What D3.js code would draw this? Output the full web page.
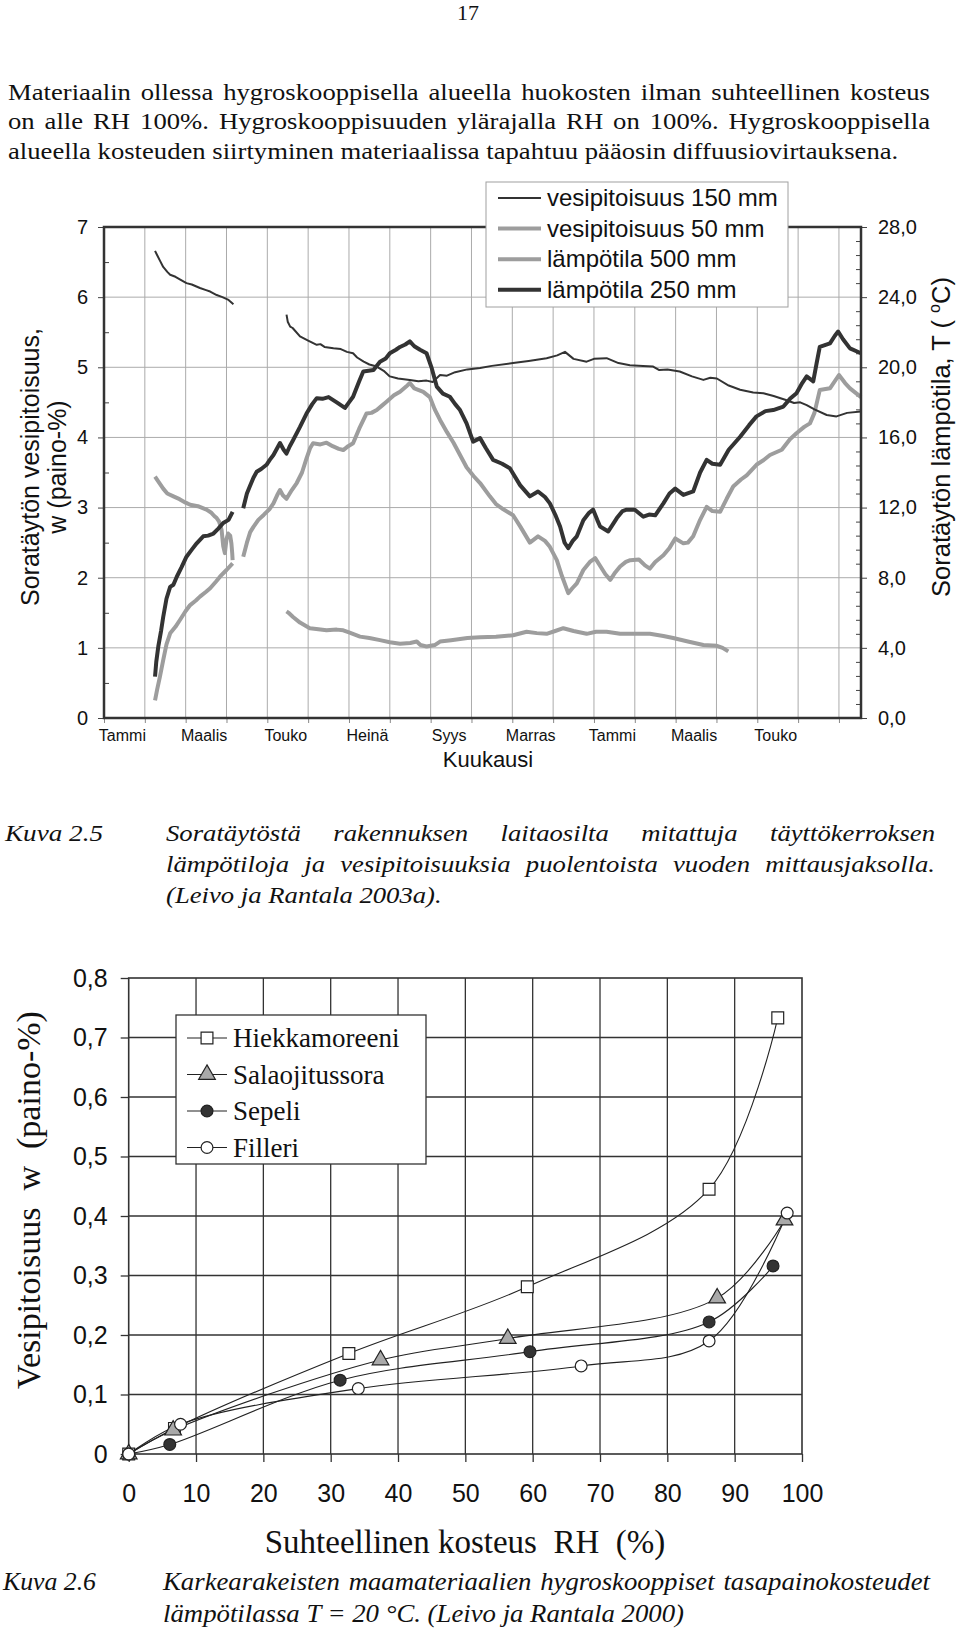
<!DOCTYPE html>
<html>
<head>
<meta charset="utf-8">
<script src="https://cdn.jsdelivr.net/npm/d3@7"></script>
<style>
  body { margin: 0; background: #fff; }
  #page { position: relative; width: 960px; height: 1629px; background: #fff; overflow: hidden; }
  #chart { position: absolute; left: 0; top: 0; }
  .line { position: absolute; white-space: nowrap; color: #111; transform-origin: 0 0; }
  .just { text-align: justify; text-align-last: justify; white-space: normal; }
</style>
</head>
<body>
<div id="page"><svg id="chart" width="960" height="1629"></svg></div>
<script>
// ---- top chart: months from Tammi (0) , w in paino-%, T in degC
const monthTicks = [0, 2, 4, 6, 8, 10, 12, 14, 16];
const monthLabels = ["Tammi", "Maalis", "Touko", "Heinä", "Syys", "Marras", "Tammi", "Maalis", "Touko"];
const wTicks = [0, 1, 2, 3, 4, 5, 6, 7];
const tTicks = [0, 4, 8, 12, 16, 20, 24, 28];
const topLegend = ["vesipitoisuus 150 mm", "vesipitoisuus 50 mm", "lämpötila 500 mm", "lämpötila 250 mm"];

// vesipitoisuus 150 mm (w)
const w150a = [[1.25,6.66],[1.30,6.60],[1.37,6.52],[1.45,6.43],[1.55,6.36],[1.62,6.32],[1.75,6.29],[1.9,6.24],[2.02,6.20],[2.15,6.18],[2.35,6.13],[2.5,6.10],[2.6,6.08],[2.76,6.03],[2.9,6.0],[3.05,5.96],[3.17,5.90]];
const w150b = [[4.47,5.75],[4.50,5.65],[4.56,5.58],[4.62,5.56],[4.8,5.44],[5.0,5.38],[5.21,5.32],[5.3,5.33],[5.4,5.29],[5.62,5.27],[5.8,5.26],[5.95,5.22],[6.1,5.20],[6.2,5.14],[6.36,5.08],[6.5,5.04],[6.68,5.01],[6.85,4.95],[7.0,4.87],[7.2,4.84],[7.49,4.82],[7.7,4.80],[7.9,4.81],[8.05,4.79],[8.23,4.89],[8.4,4.88],[8.6,4.93],[8.9,4.97],[9.21,4.99],[9.5,5.02],[10.02,5.06],[10.4,5.09],[10.84,5.13],[11.1,5.17],[11.29,5.22],[11.5,5.12],[11.82,5.08],[12.0,5.12],[12.31,5.13],[12.6,5.06],[12.88,5.03],[13.2,5.02],[13.45,5.01],[13.6,4.96],[13.8,4.97],[14.1,4.94],[14.4,4.87],[14.68,4.82],[14.85,4.85],[15.01,4.84],[15.3,4.74],[15.58,4.68],[15.9,4.64],[16.15,4.63],[16.4,4.59],[16.72,4.53],[16.9,4.49],[17.05,4.50],[17.21,4.46],[17.4,4.40],[17.7,4.32],[17.94,4.30],[18.2,4.35],[18.54,4.37]];

// vesipitoisuus 50 mm (w)
const w50a = [[1.25,3.44],[1.32,3.38],[1.45,3.27],[1.55,3.20],[1.70,3.16],[1.85,3.12],[2.0,3.07],[2.11,3.04],[2.3,3.02],[2.51,2.97],[2.62,2.93],[2.70,2.88],[2.76,2.85],[2.82,2.80],[2.88,2.68],[2.92,2.45],[2.96,2.35],[3.0,2.55],[3.04,2.63],[3.09,2.60],[3.12,2.49],[3.14,2.35],[3.15,2.25]];
const w50b = [[4.47,1.52],[4.52,1.50],[4.63,1.44],[4.8,1.36],[5.04,1.28],[5.2,1.27],[5.45,1.25],[5.7,1.26],[5.86,1.25],[6.0,1.22],[6.27,1.16],[6.5,1.14],[6.76,1.11],[7.0,1.08],[7.25,1.06],[7.5,1.07],[7.66,1.09],[7.75,1.04],[7.9,1.02],[8.1,1.04],[8.23,1.09],[8.5,1.11],[8.9,1.14],[9.21,1.15],[9.6,1.16],[10.02,1.18],[10.35,1.23],[10.6,1.21],[10.84,1.20],[11.05,1.24],[11.25,1.28],[11.5,1.24],[11.82,1.20],[12.05,1.23],[12.31,1.23],[12.64,1.20],[13.0,1.20],[13.37,1.20],[13.7,1.17],[13.94,1.14],[14.3,1.09],[14.68,1.04],[15.01,1.03],[15.15,1.00],[15.29,0.95]];

// lämpötila 500 mm (T)
const t500a = [[1.25,1.0],[1.30,1.6],[1.37,2.36],[1.45,3.3],[1.53,4.2],[1.62,4.83],[1.75,5.2],[1.86,5.59],[2.0,6.1],[2.11,6.44],[2.25,6.7],[2.35,6.92],[2.5,7.2],[2.60,7.40],[2.75,7.8],[2.84,8.06],[3.0,8.44],[3.15,8.82]];
const t500b = [[3.41,9.2],[3.5,10.0],[3.58,10.6],[3.66,10.9],[3.78,11.3],[3.91,11.58],[4.05,11.9],[4.15,12.24],[4.24,12.7],[4.31,13.0],[4.38,12.7],[4.47,12.5],[4.6,13.0],[4.72,13.4],[4.85,14.0],[4.96,14.8],[5.05,15.4],[5.12,15.67],[5.3,15.6],[5.45,15.7],[5.6,15.5],[5.75,15.35],[5.86,15.28],[5.98,15.5],[6.1,15.67],[6.25,16.5],[6.43,17.37],[6.55,17.4],[6.68,17.56],[6.8,17.8],[6.92,18.04],[7.1,18.4],[7.25,18.6],[7.4,18.9],[7.49,19.1],[7.6,18.8],[7.82,18.6],[7.98,18.3],[8.1,17.6],[8.23,17.0],[8.4,16.3],[8.56,15.7],[8.72,15.0],[8.88,14.3],[9.05,13.8],[9.21,13.4],[9.45,12.64],[9.6,12.2],[9.78,11.9],[10.02,11.56],[10.2,10.9],[10.43,10.0],[10.63,10.36],[10.8,10.1],[10.92,9.76],[11.09,9.0],[11.2,8.2],[11.37,7.12],[11.47,7.4],[11.58,7.68],[11.74,8.44],[11.9,8.9],[12.03,9.12],[12.16,8.64],[12.28,8.2],[12.4,7.88],[12.52,8.3],[12.64,8.64],[12.78,8.9],[12.89,9.0],[13.1,9.04],[13.25,8.7],[13.37,8.52],[13.5,8.9],[13.70,9.28],[13.85,9.7],[13.99,10.24],[14.19,9.96],[14.3,10.0],[14.43,10.36],[14.6,11.3],[14.76,12.04],[14.9,11.8],[15.09,11.76],[15.25,12.5],[15.41,13.2],[15.6,13.6],[15.74,13.84],[15.98,14.44],[16.15,14.7],[16.31,15.0],[16.6,15.3],[16.8,15.9],[16.96,16.24],[17.15,16.6],[17.29,16.8],[17.4,17.4],[17.53,18.7],[17.78,18.8],[18.0,19.56],[18.15,19.1],[18.27,18.8],[18.54,18.3]];

// lämpötila 250 mm (T)
const t250a = [[1.25,2.36],[1.28,3.2],[1.33,4.08],[1.40,5.0],[1.45,5.76],[1.53,6.8],[1.62,7.48],[1.70,7.6],[1.78,8.04],[1.9,8.6],[2.02,9.2],[2.15,9.6],[2.27,9.96],[2.43,10.36],[2.55,10.4],[2.68,10.52],[2.80,10.8],[2.92,11.12],[3.05,11.3],[3.15,11.76]];
const t250b = [[3.41,11.96],[3.5,12.8],[3.57,13.2],[3.66,13.7],[3.74,14.04],[3.85,14.2],[3.98,14.44],[4.06,14.72],[4.15,15.0],[4.31,15.68],[4.40,15.3],[4.47,15.08],[4.55,15.5],[4.63,15.84],[4.8,16.6],[4.96,17.36],[5.1,17.9],[5.21,18.24],[5.35,18.2],[5.5,18.3],[5.7,18.0],[5.90,17.68],[6.0,18.0],[6.1,18.32],[6.25,19.2],[6.35,19.76],[6.6,19.84],[6.76,20.32],[6.9,20.5],[7.0,20.8],[7.15,21.0],[7.25,21.16],[7.38,21.3],[7.49,21.48],[7.6,21.2],[7.74,21.0],[7.9,20.8],[8.02,20.0],[8.15,18.9],[8.3,18.5],[8.47,18.32],[8.6,17.9],[8.72,17.56],[8.88,16.8],[9.04,15.76],[9.21,15.96],[9.35,15.4],[9.53,14.72],[9.75,14.5],[9.94,14.24],[10.19,13.28],[10.43,12.64],[10.63,12.92],[10.8,12.6],[10.92,12.24],[11.05,11.6],[11.17,10.92],[11.28,10.0],[11.37,9.68],[11.48,10.1],[11.58,10.36],[11.74,11.28],[11.88,11.7],[11.98,11.88],[12.08,11.3],[12.15,10.92],[12.35,10.64],[12.45,11.0],[12.56,11.4],[12.7,11.8],[12.8,11.88],[13.0,11.88],[13.21,11.48],[13.35,11.6],[13.5,11.56],[13.70,12.24],[13.85,12.8],[13.99,13.08],[14.19,12.72],[14.43,12.92],[14.6,14.0],[14.76,14.72],[14.9,14.5],[15.09,14.44],[15.3,15.3],[15.58,16.04],[15.8,16.7],[15.98,17.2],[16.2,17.5],[16.39,17.56],[16.64,17.76],[16.8,18.2],[16.96,18.52],[17.1,19.1],[17.21,19.48],[17.37,19.2],[17.45,20.2],[17.53,21.16],[17.78,21.36],[17.9,21.8],[17.98,22.04],[18.1,21.6],[18.27,21.08],[18.54,20.8]];

// ---- bottom chart: RH (%) and w (paino-%)
const rhTicks = [0, 10, 20, 30, 40, 50, 60, 70, 80, 90, 100];
const wbTicks = [0, 0.1, 0.2, 0.3, 0.4, 0.5, 0.6, 0.7, 0.8];
const materials = ["Hiekkamoreeni", "Salaojitussora", "Sepeli", "Filleri"];
const hiekkaRH = [0, 6.8, 32.7, 59.2, 86.2, 96.4];
const hiekkaW = [0, 0.043, 0.169, 0.281, 0.445, 0.733];
const salaRH = [0, 6.6, 37.4, 56.3, 87.4, 97.4];
const salaW = [0, 0.040, 0.158, 0.194, 0.262, 0.393];
const sepeliRH = [0, 6.1, 31.4, 59.6, 86.2, 95.7];
const sepeliW = [0, 0.016, 0.124, 0.172, 0.222, 0.316];
const filleriRH = [0, 7.7, 34.1, 67.2, 86.2, 97.8];
const filleriW = [0, 0.050, 0.110, 0.148, 0.190, 0.405];

// ---- page text
const bodyLines = [
  "Materiaalin ollessa hygroskooppisella alueella huokosten ilman suhteellinen kosteus",
  "on alle RH 100%. Hygroskooppisuuden ylärajalla RH on 100%. Hygroskooppisella",
  "alueella kosteuden siirtyminen materiaalissa tapahtuu pääosin diffuusiovirtauksena."
];
const caption25 = [
  "Soratäytöstä rakennuksen laitaosilta mitattuja täyttökerroksen",
  "lämpötiloja ja vesipitoisuuksia puolentoista vuoden mittausjaksolla.",
  "(Leivo ja Rantala 2003a)."
];
const caption26 = [
  "Karkearakeisten maamateriaalien hygroskooppiset tasapainokosteudet",
  "lämpötilassa T = 20 °C. (Leivo ja Rantala 2000)"
];

const SANS = "'Liberation Sans', Arial, sans-serif";
const SERIF = "'Liberation Serif', 'Times New Roman', serif";
const page = d3.select("#page");
const svg = d3.select("#chart");

// html text line placed by its baseline, sx = horizontal stretch of the glyphs
function textLine(str, left, width, baseline, size, italic, justify, sx) {
  const lh = Math.round(size * 1.3);
  const top = baseline - ((lh - 1.107 * size) / 2 + 0.891 * size);
  page.append("div")
    .attr("class", justify ? "line just" : "line")
    .style("left", left + "px")
    .style("top", top + "px")
    .style("width", width ? (width / sx) + "px" : null)
    .style("transform", `scaleX(${sx})`)
    .style("font-family", SERIF)
    .style("font-size", size + "px")
    .style("line-height", lh + "px")
    .style("font-style", italic ? "italic" : "normal")
    .text(str);
}

textLine("17", 457, null, 20, 22, false, false, 1);
bodyLines.forEach((s, i) => textLine(s, 8, 922, 100 + i * 29.5, 22.5, false, i < 2, 1.185));
textLine("Kuva 2.5", 5, null, 842, 23, true, false, 1.18);
caption25.forEach((s, i) => textLine(s, 166, 769, 842 + i * 31, 23, true, i < 2, 1.16));
textLine("Kuva 2.6", 3, null, 1590, 25, true, false, 1.03);
caption26.forEach((s, i) => textLine(s, 163, 767, 1590 + i * 32, 25, true, i < 1, 1.07));

// ================= top chart =================
const xT = d3.scaleLinear().domain([0, 18.54]).range([104, 861]);
const yL = d3.scaleLinear().domain([0, 7]).range([718, 227]);
const yR = d3.scaleLinear().domain([0, 28]).range([718, 227]);
const gT = svg.append("g");

// grid
gT.selectAll(".vg").data(d3.range(1, 19)).join("line")
  .attr("x1", d => xT(d)).attr("x2", d => xT(d))
  .attr("y1", yL(7)).attr("y2", yL(0))
  .attr("stroke", "#ababab").attr("stroke-width", 1);
gT.selectAll(".hg").data(wTicks.slice(1, -1)).join("line")
  .attr("x1", xT(0)).attr("x2", xT(18.54))
  .attr("y1", d => yL(d)).attr("y2", d => yL(d))
  .attr("stroke", "#ababab").attr("stroke-width", 1);

// axes
function styleAxis(g, size) {
  g.attr("font-family", SANS).attr("font-size", size);
  g.select(".domain").remove();
  g.selectAll("text").attr("fill", "#111");
  g.selectAll("line").attr("stroke", "#444");
}
gT.append("g").attr("transform", `translate(${xT(0)},0)`)
  .call(d3.axisLeft(yL).tickValues(wTicks).tickSize(6).tickPadding(10).tickFormat(d3.format("d")))
  .call(g => styleAxis(g, 20));
gT.append("g").attr("transform", `translate(${xT(0)},0)`)
  .call(d3.axisLeft(yL).tickValues(d3.range(0.5, 7, 1)).tickSize(-5).tickFormat(""))
  .call(g => styleAxis(g, 10));
gT.append("g").attr("transform", `translate(${xT(18.54)},0)`)
  .call(d3.axisRight(yR).tickValues(tTicks).tickSize(6).tickPadding(11)
    .tickFormat(d => d3.format(".1f")(d).replace(".", ",")))
  .call(g => styleAxis(g, 20));
gT.append("g").attr("transform", `translate(${xT(18.54)},0)`)
  .call(d3.axisRight(yR).tickValues(d3.range(1, 35).map(i => i * 0.8).filter(v => v < 28 && Math.abs(v / 4 - Math.round(v / 4)) > 0.01))
    .tickSize(-5).tickFormat(""))
  .call(g => styleAxis(g, 10));
gT.append("g").attr("transform", `translate(0,${yL(0)})`)
  .call(d3.axisBottom(xT).tickValues(d3.range(0, 19)).tickSize(5).tickFormat(""))
  .call(g => styleAxis(g, 10))
  .call(g => g.selectAll("line").attr("stroke", "#888"));

gT.selectAll(".mlab").data(monthLabels).join("text")
  .attr("x", (d, i) => xT(monthTicks[i] + 0.5) - 2)
  .attr("y", 741)
  .attr("text-anchor", "middle")
  .attr("font-family", SANS).attr("font-size", 16).attr("fill", "#111")
  .text(d => d);

// series
const lineL = d3.line().x(d => xT(d[0])).y(d => yL(d[1]));
const lineR = d3.line().x(d => xT(d[0])).y(d => yR(d[1]));
const topSeries = [
  { segs: [w50a, w50b], gen: lineL, color: "#9d9d9d", width: 4 },
  { segs: [t500a, t500b], gen: lineR, color: "#9d9d9d", width: 4 },
  { segs: [t250a, t250b], gen: lineR, color: "#333", width: 4 },
  { segs: [w150a, w150b], gen: lineL, color: "#333", width: 2 }
];
topSeries.forEach(s => {
  gT.selectAll(null).data(s.segs).join("path")
    .attr("d", d => s.gen(d))
    .attr("fill", "none").attr("stroke", s.color)
    .attr("stroke-width", s.width).attr("stroke-linejoin", "round");
});

// frame
gT.append("rect")
  .attr("x", xT(0)).attr("y", yL(7))
  .attr("width", xT(18.54) - xT(0)).attr("height", yL(0) - yL(7))
  .attr("fill", "none").attr("stroke", "#333").attr("stroke-width", 2.5);

// legend
const legT = gT.append("g");
legT.append("rect").attr("x", 486).attr("y", 182).attr("width", 302).attr("height", 125)
  .attr("fill", "#fff").attr("stroke", "#a0a0a0").attr("stroke-width", 1);
const legStyle = [topSeries[3], topSeries[0], topSeries[1], topSeries[2]];
legT.selectAll(".li").data(topLegend).join("line")
  .attr("x1", 498).attr("x2", 541)
  .attr("y1", (d, i) => 198 + i * 30.6).attr("y2", (d, i) => 198 + i * 30.6)
  .attr("stroke", (d, i) => legStyle[i].color)
  .attr("stroke-width", (d, i) => legStyle[i].width);
legT.selectAll(".lt").data(topLegend).join("text")
  .attr("x", 547).attr("y", (d, i) => 198 + i * 30.6 + 8)
  .attr("font-family", SANS).attr("font-size", 24).attr("fill", "#111")
  .text(d => d);

// axis titles
gT.append("text")
  .attr("transform", "translate(39,467) rotate(-90)")
  .attr("text-anchor", "middle").attr("font-family", SANS).attr("font-size", 25).attr("fill", "#111")
  .text("Soratäytön vesipitoisuus,");
gT.append("text")
  .attr("transform", "translate(66,467) rotate(-90)")
  .attr("text-anchor", "middle").attr("font-family", SANS).attr("font-size", 25).attr("fill", "#111")
  .text("w (paino-%)");
const rt = gT.append("text")
  .attr("transform", "translate(950,437) rotate(-90)")
  .attr("text-anchor", "middle").attr("font-family", SANS).attr("font-size", 25.5).attr("fill", "#111")
  .style("white-space", "pre");
rt.append("tspan").text("Soratäytön lämpötila, T ( ");
rt.append("tspan").attr("font-size", 16).attr("dy", -10).text("o");
rt.append("tspan").attr("dy", 10).text("C)");
gT.append("text")
  .attr("x", 488).attr("y", 767).attr("text-anchor", "middle")
  .attr("font-family", SANS).attr("font-size", 22).attr("fill", "#111")
  .text("Kuukausi");

// ================= bottom chart =================
const xB = d3.scaleLinear().domain([0, 100]).range([128.7, 802]);
const yB = d3.scaleLinear().domain([0, 0.8]).range([1454, 978]);
const gB = svg.append("g");

gB.selectAll(".vg").data(rhTicks.slice(1, -1)).join("line")
  .attr("x1", d => xB(d)).attr("x2", d => xB(d))
  .attr("y1", yB(0.8)).attr("y2", yB(0))
  .attr("stroke", "#333").attr("stroke-width", 1.3);
gB.selectAll(".hg").data(wbTicks.slice(1, -1)).join("line")
  .attr("x1", xB(0)).attr("x2", xB(100))
  .attr("y1", d => yB(d)).attr("y2", d => yB(d))
  .attr("stroke", "#333").attr("stroke-width", 1.3);

const fmtW = d => d === 0 ? "0" : d3.format(".1f")(d).replace(".", ",");
gB.append("g").attr("transform", `translate(${xB(0)},0)`)
  .call(d3.axisLeft(yB).tickValues(wbTicks).tickSize(8).tickPadding(13).tickFormat(fmtW))
  .call(g => styleAxis(g, 25))
  .call(g => g.selectAll("line").attr("stroke", "#333").attr("stroke-width", 1.3));
gB.append("g").attr("transform", `translate(0,${yB(0)})`)
  .call(d3.axisBottom(xB).tickValues(rhTicks).tickSize(8).tickPadding(22).tickFormat(d3.format("d")))
  .call(g => styleAxis(g, 25))
  .call(g => g.selectAll("line").attr("stroke", "#333").attr("stroke-width", 1.3));

gB.append("rect")
  .attr("x", xB(0)).attr("y", yB(0.8))
  .attr("width", xB(100) - xB(0)).attr("height", yB(0) - yB(0.8))
  .attr("fill", "none").attr("stroke", "#333").attr("stroke-width", 1.6);

const matData = [
  d3.zip(hiekkaRH, hiekkaW), d3.zip(salaRH, salaW),
  d3.zip(sepeliRH, sepeliW), d3.zip(filleriRH, filleriW)
];
const matStyle = [
  { type: d3.symbolSquare, size: 140, fill: "#fff" },
  { type: d3.symbolTriangle, size: 120, fill: "#a9a9a9" },
  { type: d3.symbolCircle, size: 110, fill: "#333" },
  { type: d3.symbolCircle, size: 110, fill: "#fff" }
];
const lineB = d3.line().x(d => xB(d[0])).y(d => yB(d[1])).curve(d3.curveCatmullRom.alpha(0.5));
gB.selectAll(".ml").data(matData).join("path")
  .attr("d", d => lineB(d))
  .attr("fill", "none").attr("stroke", "#222").attr("stroke-width", 1.1);
matData.forEach((pts, i) => {
  gB.selectAll(null).data(pts).join("path")
    .attr("transform", d => `translate(${xB(d[0])},${yB(d[1])})`)
    .attr("d", d3.symbol().type(matStyle[i].type).size(matStyle[i].size))
    .attr("fill", matStyle[i].fill).attr("stroke", "#222").attr("stroke-width", 1.2);
});

// legend
const legB = gB.append("g");
legB.append("rect").attr("x", 176).attr("y", 1015).attr("width", 250).attr("height", 149)
  .attr("fill", "#fff").attr("stroke", "#333").attr("stroke-width", 1.3);
const legY = i => 1038 + i * 36.5;
legB.selectAll(".ll").data(materials).join("line")
  .attr("x1", 187).attr("x2", 227)
  .attr("y1", (d, i) => legY(i)).attr("y2", (d, i) => legY(i))
  .attr("stroke", "#222").attr("stroke-width", 1.1);
materials.forEach((m, i) => {
  legB.append("path")
    .attr("transform", `translate(207,${legY(i)})`)
    .attr("d", d3.symbol().type(matStyle[i].type).size(matStyle[i].size))
    .attr("fill", matStyle[i].fill).attr("stroke", "#222").attr("stroke-width", 1.2);
});
legB.selectAll(".lt").data(materials).join("text")
  .attr("x", 233).attr("y", (d, i) => legY(i) + 9)
  .attr("font-family", SERIF).attr("font-size", 27).attr("fill", "#111")
  .text(d => d);

// titles
gB.append("text")
  .attr("transform", "translate(40,1200) rotate(-90)")
  .attr("text-anchor", "middle").attr("font-family", SERIF).attr("font-size", 34).attr("fill", "#111")
  .style("white-space", "pre")
  .text("Vesipitoisuus  w  (paino-%)");
gB.append("text")
  .attr("x", 465).attr("y", 1553).attr("text-anchor", "middle")
  .attr("font-family", SERIF).attr("font-size", 33).attr("fill", "#111")
  .style("white-space", "pre")
  .text("Suhteellinen kosteus  RH  (%)");
</script>
</body>
</html>
